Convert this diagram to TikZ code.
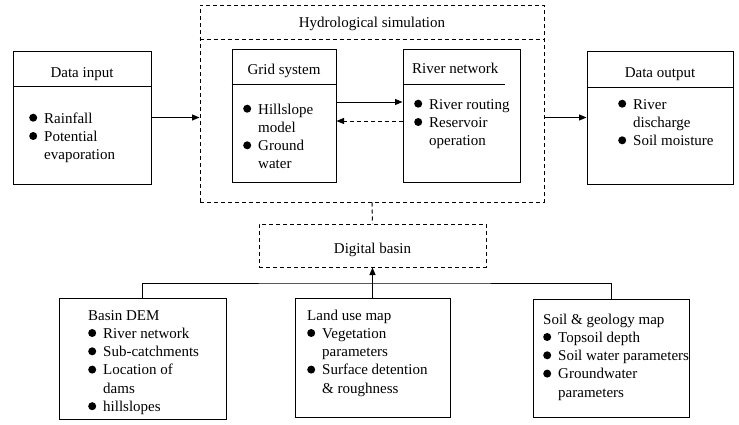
\documentclass[tikz,border=0pt]{standalone}
\usepackage{fontspec}
\setmainfont{Liberation Serif}
\usepackage{tikz}
\usetikzlibrary{arrows.meta}

\newcommand{\bul}{\raisebox{1.3pt}{\tikz\fill (0,0) circle (4pt);}}

\tikzset{
  box/.style={draw,line width=1pt,rectangle,inner sep=0pt},
  dbox/.style={box,dash pattern=on 4pt off 3pt},
  txt/.style={font=\fontsize{15}{18.3}\selectfont,inner sep=0pt},
  arr/.style={line width=1pt,-{Triangle[length=7.5pt,width=6pt]}},
}

\begin{document}
\begin{tikzpicture}[x=1pt,y=-1pt]
\useasboundingbox (0,0) rectangle (739,424);

% Boxes
\node[box,minimum width=138pt,minimum height=133pt] (datain) at (82,117.5) {};
\node[dbox,minimum width=344pt,minimum height=197pt] (hydro) at (372,103.5) {};
\node[box,minimum width=104pt,minimum height=133pt] (grid) at (284,115.5) {};
\node[box,minimum width=117pt,minimum height=133pt] (river) at (461.5,115.5) {};
\node[box,minimum width=146pt,minimum height=133pt] (dataout) at (660,117.5) {};
\node[dbox,minimum width=227pt,minimum height=43pt] (digital) at (372.5,245.5) {};
\node[box,minimum width=167pt,minimum height=121pt] (dem) at (142.5,358.5) {};
\node[box,minimum width=155pt,minimum height=119pt] (land) at (372.5,357.5) {};
\node[box,minimum width=156pt,minimum height=118pt] (soil) at (611,358) {};

% Header lines
\draw[line width=1pt] (datain.west |- 0,86) -- (datain.east |- 0,86);
\draw[line width=1pt,dash pattern=on 4pt off 3pt] (hydro.west |- 0,39) -- (hydro.east |- 0,39);
\draw[line width=1pt] (grid.west |- 0,84) -- (grid.east |- 0,84);
\draw[line width=1pt] (river.west |- 0,84) -- (505,84);
\draw[line width=1pt] (dataout.west |- 0,87) -- (dataout.east |- 0,87);

% Titles
\node[txt,anchor=base] (tin) at (82,77) {Data input};
\node[txt,anchor=base] (thydro) at (372,27) {Hydrological simulation};
\node[txt,anchor=base] (tgrid) at (284,74) {Grid system};
\node[txt,anchor=base west] (triver) at (412,73) {River network};
\node[txt,anchor=base] (tout) at (660,77) {Data output};
\node[txt,anchor=base] (tdigital) at (372.5,253) {Digital basin};

% Lists
\node[txt,anchor=base west] (lin) at (29,123) {\begin{tabular}[t]{@{}l@{\hspace{7pt}}l@{}}
\bul & Rainfall\\ \bul & Potential\\ & evaporation\end{tabular}};
\node[txt,anchor=base west] (lgrid) at (243,114) {\begin{tabular}[t]{@{}l@{\hspace{7pt}}l@{}}
\bul & Hillslope\\ & model\\ \bul & Ground\\ & water\end{tabular}};
\node[txt,anchor=base west] (lriver) at (414,109) {\begin{tabular}[t]{@{}l@{\hspace{7pt}}l@{}}
\bul & River routing\\ \bul & Reservoir\\ & operation\end{tabular}};
\node[txt,anchor=base west] (lout) at (618,109) {\begin{tabular}[t]{@{}l@{\hspace{7pt}}l@{}}
\bul & River\\ & discharge\\ \bul & Soil moisture\end{tabular}};
\node[txt,anchor=base west] (ldem) at (88,320) {\begin{tabular}[t]{@{}l@{\hspace{7pt}}l@{}}
\multicolumn{2}{@{}l@{}}{Basin DEM}\\ \bul & River network\\ \bul & Sub-catchments\\
\bul & Location of\\ & dams\\ \bul & hillslopes\end{tabular}};
\node[txt,anchor=base west] (lland) at (307,320) {\begin{tabular}[t]{@{}l@{\hspace{7pt}}l@{}}
\multicolumn{2}{@{}l@{}}{Land use map}\\ \bul & Vegetation\\ & parameters\\
\bul & Surface detention\\ & \& roughness\end{tabular}};
\node[txt,anchor=base west] (lsoil) at (543,324) {\begin{tabular}[t]{@{}l@{\hspace{7pt}}l@{}}
\multicolumn{2}{@{}l@{}}{Soil \& geology map}\\ \bul & Topsoil depth\\ \bul & Soil water parameters\\
\bul & Groundwater\\ & parameters\end{tabular}};

% Connectors
\draw[arr] (datain.east) -- (datain.east -| hydro.west);
\draw[arr] ([yshift=13.5pt]grid.east) -- ([yshift=13.5pt]river.west);
\draw[arr,dash pattern=on 4pt off 3pt] ([yshift=-5.5pt]river.west) -- ([yshift=-5.5pt]grid.east);
\draw[arr] (hydro.east |- dataout.west) -- (dataout.west);
\draw[line width=1pt,dash pattern=on 4pt off 3pt] (hydro.south) -- (digital.north);
\coordinate (bus) at (372.5,283);
\draw[line width=1pt] (dem.north) |- (bus) -| (soil.north);
\draw[arr] (land.north) -- (digital.south);
\end{tikzpicture}
\end{document}
